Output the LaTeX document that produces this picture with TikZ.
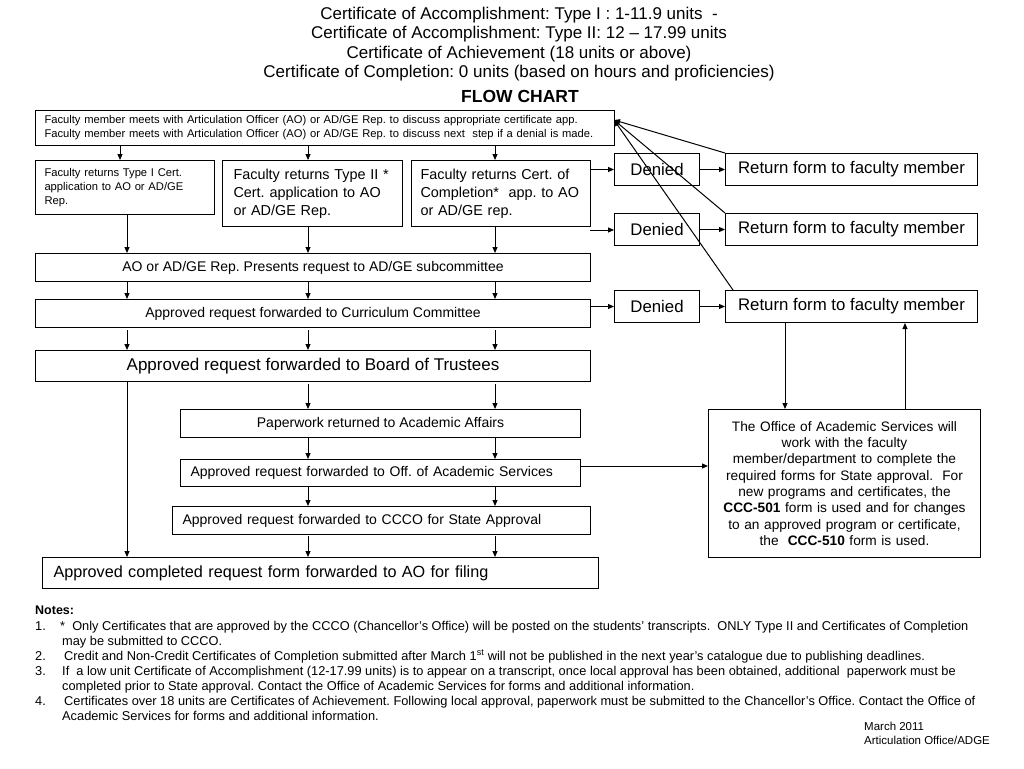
\documentclass[tikz,border=0pt]{standalone}
\usepackage{fontspec}
\setmainfont{Liberation Sans}
\usetikzlibrary{arrows.meta}
\frenchspacing
\begin{document}
\begin{tikzpicture}[x=1pt,y=-1pt,
  box/.style={draw, line width=1pt, inner ysep=0pt, anchor=north west},
  arr/.style={-{Triangle[length=6pt,width=5pt]}, line width=1pt},
  plain/.style={inner sep=0pt, anchor=base west}]
\useasboundingbox (0,0) rectangle (1024,768);
% title
\node[inner sep=0pt, align=center, font=\fontsize{17}{19.3}\selectfont] (title) at (519,44)
 {Certificate of Accomplishment: Type I : 1-11.9 units~~-\\
  Certificate of Accomplishment: Type II: 12 -- 17.99 units\\
  Certificate of Achievement (18 units or above)\\
  Certificate of Completion: 0 units (based on hours and proficiencies)};
\node[inner sep=0pt, font=\fontsize{17.5}{20}\selectfont\bfseries] (fc) at (520,96) {FLOW CHART};
% top box
\node[box, minimum width=579, minimum height=35, inner xsep=9, text width=561, align=left,
  font=\fontsize{11.2}{14}\selectfont] (top) at (35,110)
 {Faculty member meets with Articulation Officer (AO) or AD/GE Rep. to discuss appropriate certificate app.\\
  Faculty member meets with Articulation Officer (AO) or AD/GE Rep. to discuss next~ step if a denial is made.};
% three boxes
\node[box, minimum width=179, minimum height=54, inner xsep=9, text width=161, align=left,
  font=\fontsize{11.2}{14}\selectfont] (t1) at (35,160)
 {Faculty returns Type I Cert.\\ application to AO or AD/GE\\ Rep.};
\node[box, minimum width=180, minimum height=66, inner xsep=11, text width=158, align=left,
  font=\fontsize{14.4}{18}\selectfont] (t2) at (222,160)
 {Faculty returns Type II *\\ Cert. application to AO\\ or AD/GE Rep.};
\node[box, minimum width=179, minimum height=66, inner xsep=9, text width=161, align=left,
  font=\fontsize{14.4}{18}\selectfont] (t3) at (411,160)
 {Faculty returns Cert. of\\ Completion*~ app. to AO\\ or AD/GE rep.};
% denied / return
\tikzset{den/.style={box, minimum width=85, minimum height=32, inner xsep=0, font=\fontsize{16.8}{18}\selectfont},
         ret/.style={box, minimum width=252, minimum height=32, inner xsep=0, font=\fontsize{16.8}{18}\selectfont}}
\node[den] (d1) at (614,153) {Denied};
\node[ret] (r1) at (725,153) {Return form to faculty member};
\node[den] (d2) at (614,213) {Denied};
\node[ret] (r2) at (725,213) {Return form to faculty member};
\node[den] (d3) at (614,290) {Denied};
\node[ret] (r3) at (725,290) {Return form to faculty member};
% wide boxes
\tikzset{mid/.style={font=\fontsize{14}{16}\selectfont}}
\node[box, mid, minimum width=555, minimum height=28, inner xsep=0] (ao) at (35,253)
 {AO or AD/GE Rep. Presents request to AD/GE subcommittee};
\node[box, mid, minimum width=555, minimum height=28, inner xsep=0] (cc) at (35,299)
 {Approved request forwarded to Curriculum Committee};
\node[box, minimum width=555, minimum height=31, inner xsep=0, font=\fontsize{17}{19}\selectfont] (bt) at (35,350)
 {Approved request forwarded to Board of Trustees};
\node[box, mid, minimum width=400, minimum height=28, inner xsep=0] (pw) at (180,409)
 {Paperwork returned to Academic Affairs};
\node[box, mid, minimum width=400, minimum height=27, inner xsep=10, text width=380, align=left] (oa) at (180,459)
 {Approved request forwarded to Off. of Academic Services};
\node[box, mid, minimum width=418, minimum height=28, inner xsep=10, text width=398, align=left] (cs) at (172,506)
 {Approved request forwarded to CCCO for State Approval};
\node[box, minimum width=556, minimum height=31, inner xsep=11, text width=534, align=left, font=\fontsize{16.2}{18}\selectfont] (fin) at (42,557)
 {Approved completed request form forwarded to AO for filing};
\node[box, minimum width=272, minimum height=148, inner xsep=4, text width=264, align=center, font=\fontsize{13.7}{16.3}\selectfont] (off) at (708,409)
 {The Office of Academic Services will\\ work with the faculty\\ member/department to complete the\\ required forms for State approval.~ For\\ new programs and certificates, the\\ \textbf{CCC-501} form is used and for changes\\ to an approved program or certificate,\\ the~ \textbf{CCC-510} form is used.};
% column coordinates
\coordinate (c0) at (120,0);
\coordinate (ca) at (127,0);
\coordinate (cb) at (308,0);
\coordinate (cc3) at (495,0);
% top box -> three boxes
\draw[arr] (top.south -| c0) -- (t1.north -| c0);
\draw[arr] (top.south -| cb) -- (t2.north -| cb);
\draw[arr] (top.south -| cc3) -- (t3.north -| cc3);
% three -> ao
\draw[arr] (t1.south -| ca) -- (ao.north -| ca);
\draw[arr] (t2.south -| cb) -- (ao.north -| cb);
\draw[arr] (t3.south -| cc3) -- (ao.north -| cc3);
% ao -> cc
\foreach \c in {ca,cb,cc3} \draw[arr] (ao.south -| \c) -- (cc.north -| \c);
\coordinate (g2) at (0,330);
\foreach \c in {ca,cb,cc3} \draw[arr] (g2 -| \c) -- (bt.north -| \c);
% bt -> pw, and long line to fin
\draw[arr] (bt.south -| ca) -- (fin.north -| ca);
\coordinate (g3) at (0,384);
\draw[arr] (g3 -| cb) -- (pw.north -| cb);
\draw[arr] (g3 -| cc3) -- (pw.north -| cc3);
\draw[arr] (pw.south -| cb) -- (oa.north -| cb);
\draw[arr] (pw.south -| cc3) -- (oa.north -| cc3);
\draw[arr] (oa.south -| cb) -- (cs.north -| cb);
\draw[arr] (oa.south -| cc3) -- (cs.north -| cc3);
\coordinate (g4) at (0,536);
\draw[arr] (g4 -| cb) -- (fin.north -| cb);
\draw[arr] (g4 -| cc3) -- (fin.north -| cc3);
% denied arrows
\draw[arr] (t3.east |- d1) -- (d1.west);
\draw[arr] (d1) -- (r1);
\coordinate (d2s) at (590,230);
\draw[arr] (d2s) -- (d2.west |- d2s);
\draw[arr] (d2) -- (r2);
\draw[arr] (cc.east |- d3) -- (d3.west);
\draw[arr] (d3) -- (r3);
% return lines back to top box
\coordinate (tin) at (614,120);
\draw[arr] (r1.north west) -- (tin);
\draw[arr] (r2.north west) -- (tin);
\draw[arr] ([xshift=8pt]r3.north west) -- (tin);
% to office box
\coordinate (h) at (0,466);
\draw[arr] (oa.east |- h) -- (off.west |- h);
\coordinate (oc1) at (785,0);
\coordinate (oc2) at (905,0);
\draw[arr] (r3.south -| oc1) -- (off.north -| oc1);
\draw[arr] (off.north -| oc2) -- (r3.south -| oc2);
% notes
\tikzset{nt/.style={plain, font=\fontsize{12.8}{15}\selectfont}}
\node[plain, font=\fontsize{12.5}{15}\selectfont\bfseries] (nh) at (35,614) {Notes:};
\node[nt] (n1a) at (35,630) {1.};
\node[nt] (n1) at (60,630) {*~ Only Certificates that are approved by the CCCO (Chancellor’s Office) will be posted on the students’ transcripts.~ ONLY Type II and Certificates of Completion};
\node[nt] (n1b) at (62,645) {may be submitted to CCCO.};
\node[nt] (n2a) at (35,660) {2.};
\node[nt] (n2) at (64,660) {Credit and Non-Credit Certificates of Completion submitted after March 1\textsuperscript{st} will not be published in the next year’s catalogue due to publishing deadlines.};
\node[nt] (n3a) at (35,675) {3.};
\node[nt] (n3) at (62,675) {If~ a low unit Certificate of Accomplishment (12-17.99 units) is to appear on a transcript, once local approval has been obtained, additional~ paperwork must be};
\node[nt] (n3b) at (62,690) {completed prior to State approval. Contact the Office of Academic Services for forms and additional information.};
\node[nt] (n4a) at (35,705) {4.};
\node[nt] (n4) at (64,705) {Certificates over 18 units are Certificates of Achievement. Following local approval, paperwork must be submitted to the Chancellor’s Office. Contact the Office of};
\node[nt] (n4b) at (62,720) {Academic Services for forms and additional information.};
\node[plain, font=\fontsize{11.5}{13}\selectfont] (m1) at (864,730) {March 2011};
\node[plain, font=\fontsize{11.5}{13}\selectfont] (m2) at (864,744) {Articulation Office/ADGE};
\end{tikzpicture}
\end{document}
